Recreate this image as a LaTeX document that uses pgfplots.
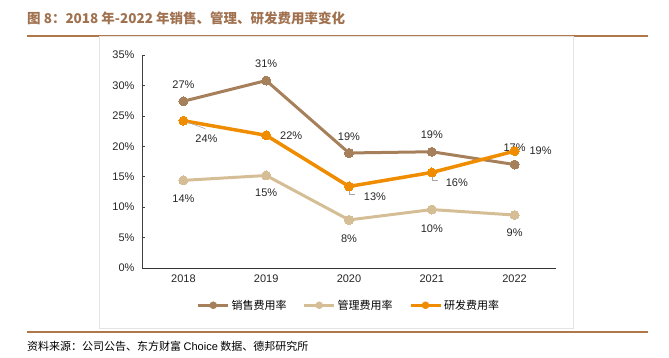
\documentclass[border=0pt]{standalone}
\usepackage{pgfplots}
\pgfplotsset{compat=1.18}
\usepackage{fontspec}
\setmainfont{Liberation Sans}
\newfontfamily\cjk{Noto Sans CJK SC}
\newfontfamily\cjkb{Noto Sans CJK SC Bold}
\definecolor{cbrown}{RGB}{166,128,90}
\definecolor{ctan}{RGB}{213,190,150}
\definecolor{corange}{RGB}{240,140,0}
\definecolor{ctitle}{RGB}{160,113,79}
\definecolor{crule}{RGB}{176,119,74}
\definecolor{cframe}{RGB}{228,228,228}
\begin{document}
\begin{tikzpicture}[x=1pt,y=1pt]
\path (0,0) rectangle (669,358);
% title
\node[anchor=west,text=ctitle,font=\cjk\bfseries\fontsize{13.5}{14}\selectfont,inner sep=0] at (27,358-18) {图 8：2018 年-2022 年销售、管理、研发费用率变化};
\draw[crule,line width=1.2pt] (27,358-36) -- (648,358-36);
\draw[crule,line width=1.2pt] (27,358-332) -- (648,358-332);
\draw[cframe,line width=1pt] (99,358-37) rectangle (573,358-329);
\node[anchor=west,font=\cjk\fontsize{11}{12}\selectfont,inner sep=0] at (27,358-346) {资料来源：公司公告、东方财富 {\rmfamily Choice} 数据、德邦研究所};
\begin{axis}[
  at={(142pt,90pt)}, anchor=south west,
  scale only axis, width=414pt, height=213pt,
  xmin=-0.5, xmax=4.5, ymin=0, ymax=35,
  xtick={0,1,2,3,4}, xticklabels={2018,2019,2020,2021,2022},
  ytick={0,5,...,35},
  yticklabel={\pgfmathprintnumber{\tick}\%},
  /pgf/number format/assume math mode=true,
  axis x line=bottom, axis y line=left,
  axis line style={-, black!75, line width=0.8pt},
  x axis line style={black!80},
  xtick style={draw=none},
  ytick style={black!75, line width=0.6pt},
  tick align=inside, major tick length=3pt,
  tick label style={font=\fontsize{11}{12}\selectfont, text=black!85},
  yticklabel style={xshift=-4pt},
  xticklabel style={yshift=-3pt},
  clip=false,
  legend style={at={(0.5,-0.175)}, anchor=center, draw=none, fill=none,
    legend columns=3, font=\cjk\fontsize{11}{12}\selectfont,
    /tikz/every even column/.style={column sep=14pt}},
  legend image code/.code={\draw[#1] (0pt,0pt) -- (30pt,0pt); \fill[#1,draw=none] (15pt,0pt) circle (3.8pt);},
]
\addplot[cbrown, line width=3pt, mark=*, mark size=4.5pt, mark options={fill=cbrown,draw=cbrown,line width=0pt}] coordinates {(0,27.4) (1,30.8) (2,18.9) (3,19.1) (4,17.0)};
\addlegendentry{销售费用率}
\addplot[ctan, line width=3pt, mark=*, mark size=4.5pt, mark options={fill=ctan,draw=ctan,line width=0pt}] coordinates {(0,14.4) (1,15.2) (2,7.9) (3,9.6) (4,8.7)};
\addlegendentry{管理费用率}
\addplot[corange, line width=3.5pt, mark=*, mark size=4.5pt, mark options={fill=corange,draw=corange,line width=0pt}] coordinates {(0,24.2) (1,21.8) (2,13.4) (3,15.7) (4,19.2)};
\addlegendentry{研发费用率}
% labels
\begin{scope}[every node/.style={font=\fontsize{11}{12}\selectfont, text=black!85, inner sep=1pt}]
\node[yshift=17pt] at (axis cs:0,27.4) {27\%};
\node[yshift=17pt] at (axis cs:1,30.8) {31\%};
\node[yshift=16pt] at (axis cs:2,18.9) {19\%};
\node[yshift=17pt] at (axis cs:3,19.1) {19\%};
\node[yshift=17pt] at (axis cs:4,17.0) {17\%};
\node[yshift=-18pt] at (axis cs:0,14.4) {14\%};
\node[yshift=-17pt] at (axis cs:1,15.2) {15\%};
\node[yshift=-19pt] at (axis cs:2,7.9) {8\%};
\node[yshift=-19pt] at (axis cs:3,9.6) {10\%};
\node[yshift=-18pt] at (axis cs:4,8.7) {9\%};
\draw[black!35, line width=0.6pt] (axis cs:0,24.2) -- ++(22pt,-8pt);
\node[xshift=23pt,yshift=-18pt] at (axis cs:0,24.2) {24\%};
\node[xshift=25pt] at (axis cs:1,21.8) {22\%};
\draw[black!35, line width=0.6pt] (axis cs:2,13.4) -- ++(0pt,-8pt) -- ++(6pt,0pt);
\node[xshift=26pt,yshift=-10pt] at (axis cs:2,13.4) {13\%};
\draw[black!35, line width=0.6pt] (axis cs:3,15.7) -- ++(0pt,-8pt) -- ++(6pt,0pt);
\node[xshift=25pt,yshift=-10pt] at (axis cs:3,15.7) {16\%};
\node[xshift=26pt] at (axis cs:4,19.2) {19\%};
\end{scope}
\end{axis}
\end{tikzpicture}
\end{document}
